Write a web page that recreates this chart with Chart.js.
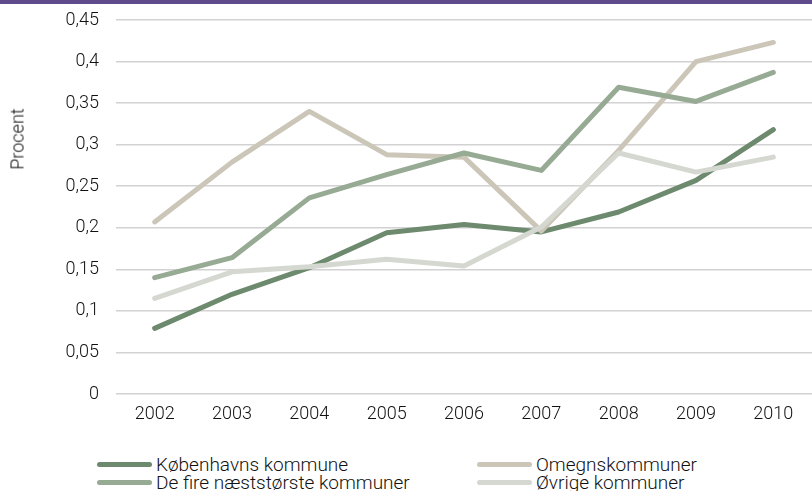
<!DOCTYPE html>
<html>
<head>
<meta charset="utf-8">
<script src="https://cdn.jsdelivr.net/npm/chart.js@4"></script>
<style>
  body { margin: 0; background: #fff; font-family: Roboto, sans-serif; }
  #wrap { position: relative; width: 812px; height: 491px; overflow: hidden; }
  #topbar { position: absolute; left: 0; top: 0; width: 812px; height: 4px; background: #5f4b8b; }
  #chart { position: absolute; left: 0; top: 0; }
  #ytitle { position: absolute; left: 17px; top: 139px; transform: translate(-50%, -50%) rotate(-90deg); font-size: 18px; color: #111; font-weight: 300; }
  .leg { position: absolute; display: flex; align-items: center; font-size: 19px; color: #111; font-weight: 300; line-height: 19px; }
  .leg span.sw { display: inline-block; width: 55px; height: 5px; border-radius: 3px; margin-right: 4px; }
</style>
</head>
<body>
<div id="wrap">
  <canvas id="chart" width="812" height="429"></canvas>
  <div id="topbar"></div>
  <div id="ytitle">Procent</div>
  <div id="legend"></div>
</div>
<script>
// DATA
const years = ["2002", "2003", "2004", "2005", "2006", "2007", "2008", "2009", "2010"];
const seriesNames = ["Københavns kommune", "Omegnskommuner", "De fire næststørste kommuner", "Øvrige kommuner"];
const koebenhavn = [0.079, 0.120, 0.152, 0.194, 0.204, 0.195, 0.219, 0.257, 0.318];
const omegn = [0.207, 0.279, 0.340, 0.288, 0.285, 0.196, 0.293, 0.400, 0.423];
const deFire = [0.140, 0.164, 0.236, 0.264, 0.290, 0.269, 0.369, 0.352, 0.387];
const oevrige = [0.115, 0.147, 0.153, 0.162, 0.154, 0.201, 0.290, 0.267, 0.285];
const colors = ["#6d8a6e", "#cbc6b8", "#97aa93", "#d5d8d0"];

const values = [koebenhavn, omegn, deFire, oevrige];

// CHART
const ctx = document.getElementById("chart");

new Chart(ctx, {
  type: "line",
  data: {
    labels: years,
    datasets: values.map((v, i) => ({
      label: seriesNames[i],
      data: v,
      borderColor: colors[i],
      borderWidth: 5,
      borderCapStyle: "round",
      borderJoinStyle: "round",
      pointRadius: 0,
      tension: 0,
      order: 3 - i
    }))
  },
  options: {
    responsive: false,
    animation: false,
    layout: { padding: { top: 20, right: 0, left: 0, bottom: 0 } },
    plugins: {
      legend: { display: false },
      tooltip: { enabled: false }
    },
    scales: {
      x: {
        offset: true,
        grid: { display: false, drawTicks: false },
        border: { display: false },
        ticks: { color: "#111", padding: 10, font: { family: "Roboto", size: 18, weight: 300 } },
        afterFit: s => { s.height = 35; s.paddingLeft = 0; s.paddingRight = 0; }
      },
      y: {
        min: 0,
        max: 0.45,
        ticks: {
          stepSize: 0.05,
          padding: 17,
          color: "#111",
          font: { family: "Roboto", size: 18, weight: 300 },
          callback: value => String(+value.toFixed(2)).replace(".", ",")
        },
        grid: { color: "#d2d2d2", lineWidth: 1.5, drawTicks: false },
        border: { display: false },
        afterFit: s => { s.width = 116; s.paddingTop = 0; s.paddingBottom = 0; }
      }
    }
  }
});

// LEGEND
const legendPos = [[97, 464], [477, 464], [97, 482], [477, 482]];
const legend = document.getElementById("legend");
seriesNames.forEach((name, i) => {
  const d = document.createElement("div");
  d.className = "leg";
  d.style.left = legendPos[i][0] + "px";
  d.style.top = (legendPos[i][1] - 9) + "px";
  d.innerHTML = `<span class="sw" style="background:${colors[i]}"></span>${name}`;
  legend.appendChild(d);
});
</script>
</body>
</html>
